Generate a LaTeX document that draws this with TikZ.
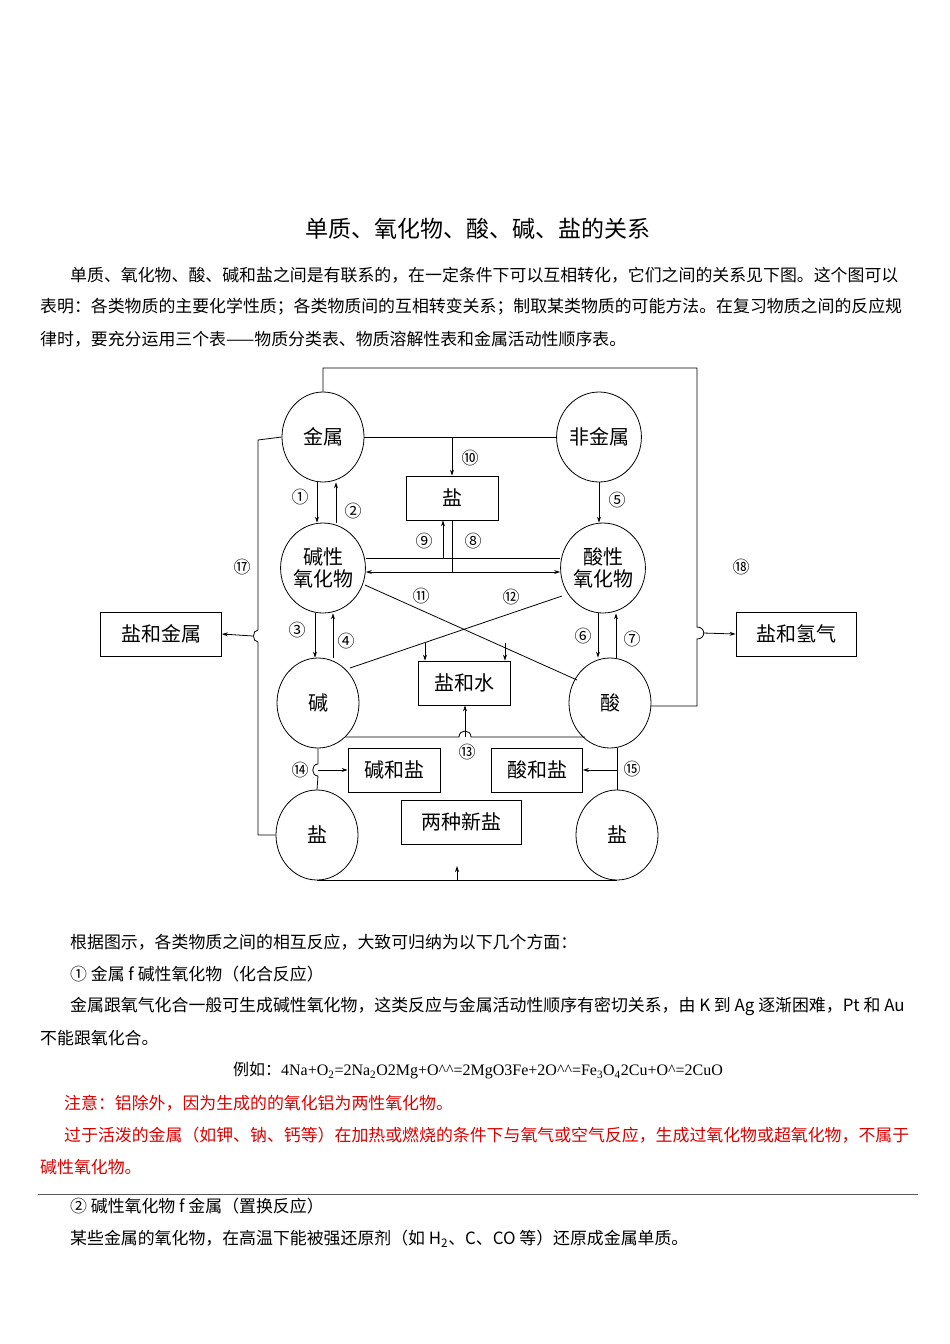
\documentclass[tikz,border=0pt]{standalone}
\usepackage{fontspec}
\setmainfont{Liberation Serif}
\newfontfamily\cjk{Noto Sans CJK SC}
\usetikzlibrary{shapes.geometric,arrows.meta}
\tikzset{
  ell/.style={draw,thick,ellipse,minimum width=82pt,minimum height=90pt,inner sep=0pt,font=\cjk\fontsize{20}{22}\selectfont},
  bx/.style={draw,thick,rectangle,minimum height=44pt,inner sep=4pt,font=\cjk\fontsize{20}{22}\selectfont},
  num/.style={font=\cjk\fontsize{17}{17}\selectfont,inner sep=0pt},
  ln/.style={thick},
  ar/.style={thick,-{Stealth[length=6pt,width=4pt]}},
  txt/.style={anchor=west,inner sep=0pt,font=\cjk\fontsize{16.9}{16}\selectfont},
  red/.style={text=red!85!black}
}
\begin{document}
\begin{tikzpicture}[x=1pt,y=-1pt]
\useasboundingbox (0,0) rectangle (950,1344);
\node[font=\cjk\fontsize{23}{23}\selectfont] (title) at (478,229) {单质、氧化物、酸、碱、盐的关系};
\node[txt] (p1) at (70,275) {单质、氧化物、酸、碱和盐之间是有联系的，在一定条件下可以互相转化，它们之间的关系见下图。这个图可以};
\node[txt] (p2) at (40,307) {表明：各类物质的主要化学性质；各类物质间的互相转变关系；制取某类物质的可能方法。在复习物质之间的反应规};
\node[txt] (p3) at (40,339) {律时，要充分运用三个表——物质分类表、物质溶解性表和金属活动性顺序表。};

% ellipses
\node[ell] (m) at (323,437) {金属};
\node[ell] (nm) at (599,437) {非金属};
\node[ell,align=center] (bo) at (323,568) {碱性\\氧化物};
\node[ell,align=center] (ao) at (603,568) {酸性\\氧化物};
\node[ell] (b) at (318,703) {碱};
\node[ell] (a) at (610,703) {酸};
\node[ell] (sl) at (317,835) {盐};
\node[ell] (sr) at (617,835) {盐};
% boxes
\node[bx,minimum width=92pt] (s) at (452,498) {盐};
\node[bx,minimum width=121pt] (sm) at (161,634) {盐和金属};
\node[bx,minimum width=120pt] (sh) at (796,634) {盐和氢气};
\node[bx,minimum width=92pt] (sw) at (464,683) {盐和水};
\node[bx,minimum width=92pt] (bs) at (394,770) {碱和盐};
\node[bx,minimum width=91pt] (as) at (537,770) {酸和盐};
\node[bx,minimum width=120pt] (ns) at (461,822) {两种新盐};

% top frame to acid and salt+H2
\coordinate (t1) at (323,368);
\coordinate (t2) at (697,368);
\coordinate (t3) at (697,706);
\draw[ln] (m.north) -- (t1) -- (t2) -- (697,627) .. controls (706,627) and (706,639) .. (697,639) -- (t3) -- (a.east |- t3);
\draw[ar] (703,633) -- (sh.west);
\node[num] (n18) at (741,567) {⑱};

% metal-nonmetal -> salt
\coordinate (k10) at (452,437);
\draw[ln] (m.east) -- (nm.west);
\draw[ar] (k10) -- (s.north);
\node[num] (n10) at (470,458) {⑩};

% 1,2
\draw[ar] ([xshift=-6pt]m.south) -- ([xshift=-6pt]bo.north);
\draw[ar] ([xshift=13pt]bo.north) -- ([xshift=13pt]m.south);
\node[num] (n1) at (300,497) {①};
\node[num] (n2) at (353,511) {②};
% 5
\draw[ar] (nm.south) -- (nm.south |- ao.north);
\node[num] (n5) at (617,500) {⑤};

% 8,9
\coordinate (k9) at (443,558);
\coordinate (k8) at (452,572);
\draw[ln] (bo.east |- k9) -- (ao.west |- k9);
\draw[ar] (k9) -- (s.south -| k9);
\draw[ln] (s.south -| k8) -- (k8);
\draw[thick,{Stealth[length=6pt,width=4pt]}-{Stealth[length=6pt,width=4pt]}] (bo.east |- k8) -- (ao.west |- k8);
\node[num] (n9) at (424,541) {⑨};
\node[num] (n8) at (473,541) {⑧};

% 3,4
\draw[ar] ([xshift=-8pt]bo.south) -- ([xshift=-8pt]bo.south |- b.north);
\draw[ar] ([xshift=10pt]bo.south |- b.north) -- ([xshift=10pt]bo.south);
\node[num] (n3) at (297,630) {③};
\node[num] (n4) at (346,641) {④};
% 6,7
\draw[ar] ([xshift=-5pt]ao.south) -- ([xshift=-5pt]ao.south |- a.north);
\draw[ar] ([xshift=13pt]ao.south |- a.north) -- ([xshift=13pt]ao.south);
\node[num] (n6) at (583,636) {⑥};
\node[num] (n7) at (632,639) {⑦};

% cross lines 11, 12
\coordinate (c1) at (365,585);
\coordinate (c2) at (577,680);
\coordinate (c3) at (562,596);
\coordinate (c4) at (350,668);
\draw[ln] (c1) -- (c2);
\draw[ln] (c3) -- (c4);
\coordinate (d1) at (425,643);
\coordinate (d2) at (505,643);
\draw[ar] (d1) -- (d1 |- sw.north);
\draw[ar] (d2) -- (d2 |- sw.north);
\node[num] (n11) at (421,596) {⑪};
\node[num] (n12) at (511,597) {⑫};

% 13
\coordinate (k13) at (465,737);
\draw[ln] (345,737) -- (459,737) .. controls (459,729) and (471,729) .. (471,737) -- (585,737);
\draw[ar] (k13) -- (sw.south -| k13);
\node[num] (n13) at (467,752) {⑬};

% 14, 15
\draw[ln] (b.south) -- (318,764) .. controls (311,764) and (311,776) .. (318,776) -- (sl.north);
\draw[ar] (318,770) -- (bs.west);
\node[num] (n14) at (300,770) {⑭};
\draw[ln] (sr.north |- a.south) -- (sr.north);
\draw[ar] (617,770) -- (as.east);
\node[num] (n15) at (632,769) {⑮};

% bottom
\coordinate (k16) at (457,880);
\draw[ln] (sl.south) -- (sr.south);
\draw[ar] (k16) -- (457,866);

% 17
\draw[ln] (m.west) -- (258,440) -- (258,630) .. controls (252,630) and (252,642) .. (258,642) -- (258,835) -- (sl.west);
\draw[ar] (253,636) -- (sm.east);
\node[num] (n17) at (242,567) {⑰};

% text below
\node[txt] (q1) at (70,942) {根据图示，各类物质之间的相互反应，大致可归纳为以下几个方面：};
\node[txt] (q2) at (70,974) {① 金属 f 碱性氧化物（化合反应）};
\node[txt] (q3) at (70,1006) {金属跟氧气化合一般可生成碱性氧化物，这类反应与金属活动性顺序有密切关系，由 K 到 Ag 逐渐困难，Pt 和 Au};
\node[txt] (q4) at (40,1038) {不能跟氧化合。};
\node[font=\cjk\fontsize{16}{16}\selectfont,inner sep=0pt] (q5) at (478,1071) {例如：{\rmfamily 4Na+O\textsubscript{2}=2Na\textsubscript{2}O2Mg+O\^{}\^{}=2MgO3Fe+2O\^{}\^{}=Fe\textsubscript{3}O\textsubscript{4}2Cu+O\^{}=2CuO}};
\node[txt,red] (q6) at (64,1103) {注意：铝除外，因为生成的的氧化铝为两性氧化物。};
\node[txt,red] (q7) at (64,1135) {过于活泼的金属（如钾、钠、钙等）在加热或燃烧的条件下与氧气或空气反应，生成过氧化物或超氧化物，不属于};
\node[txt,red] (q8) at (40,1167) {碱性氧化物。};
\draw[gray!70!black,thick] (38,1194) -- (918,1194);
\node[txt] (q9) at (70,1206) {② 碱性氧化物 f 金属（置换反应）};
\node[txt] (q10) at (70,1239) {某些金属的氧化物，在高温下能被强还原剂（如 H\textsubscript{2}、C、CO 等）还原成金属单质。};
\end{tikzpicture}
\end{document}
